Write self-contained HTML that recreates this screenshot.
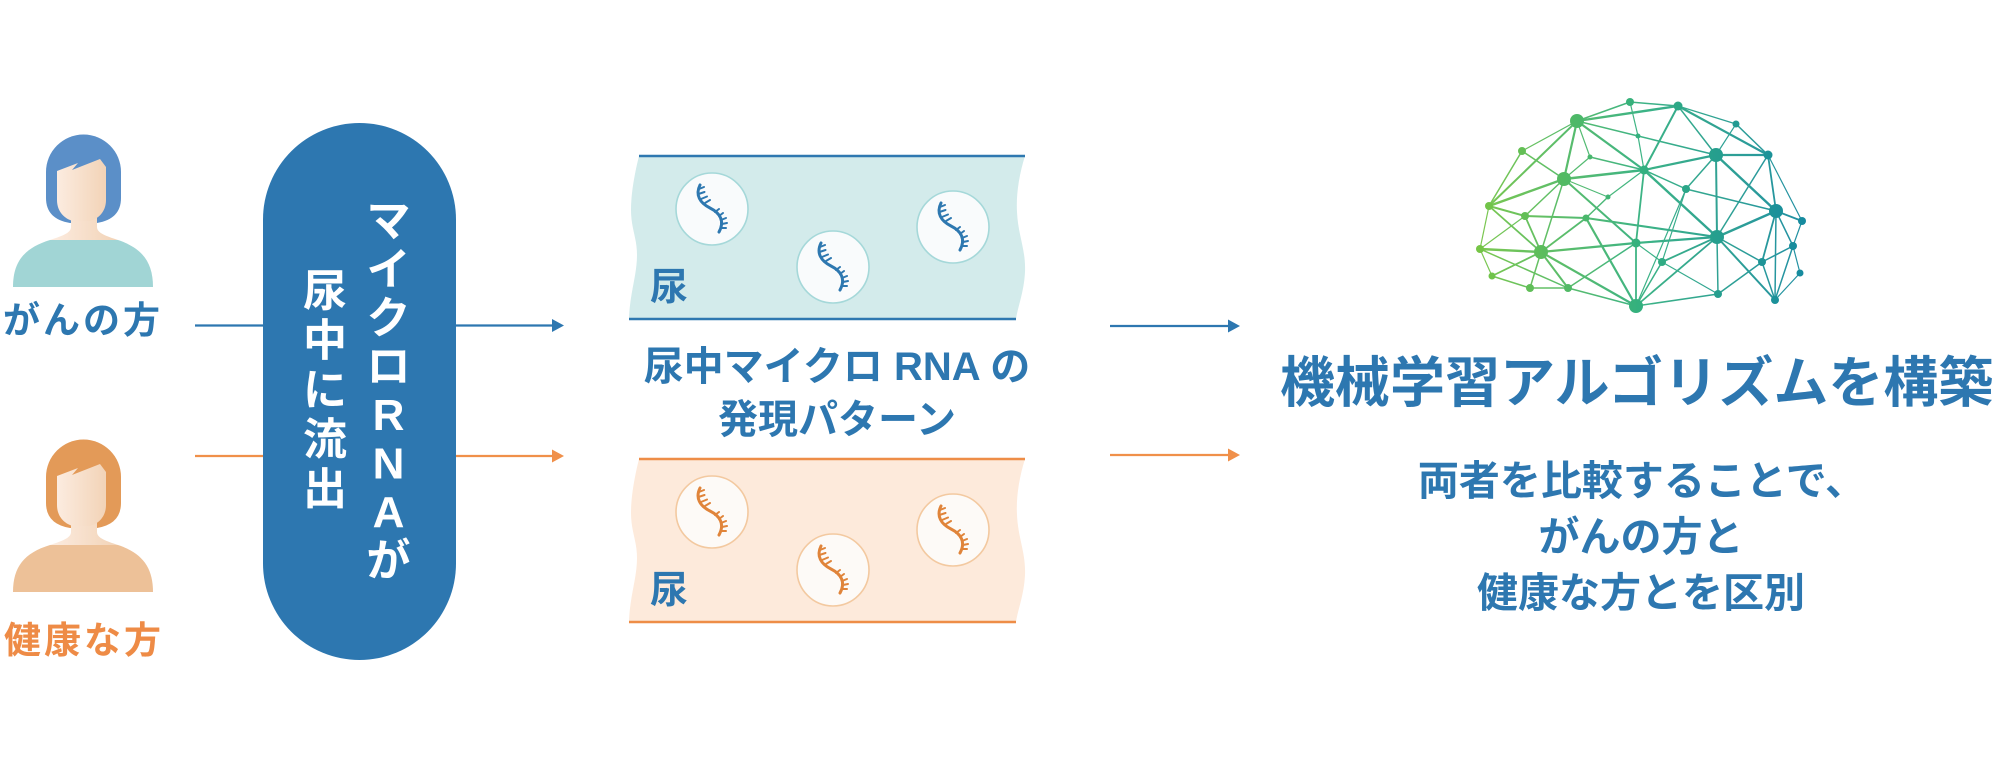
<!DOCTYPE html>
<html><head><meta charset="utf-8"><style>
html,body{margin:0;padding:0;background:#fff;}
svg{display:block;}
text{font-family:"Liberation Sans","Noto Sans CJK JP",sans-serif;font-weight:700;}
</style></head><body>
<svg width="2000" height="772" viewBox="0 0 2000 772" xmlns="http://www.w3.org/2000/svg">
<defs>
<linearGradient id="skin" x1="0" y1="0" x2="1" y2="0"><stop offset="0" stop-color="#fcece0"/><stop offset="1" stop-color="#f2d3b7"/></linearGradient>
<linearGradient id="bg" gradientUnits="userSpaceOnUse" x1="1477" y1="0" x2="1805" y2="0"><stop offset="0" stop-color="#76c545"/><stop offset="0.5" stop-color="#33b07f"/><stop offset="1" stop-color="#168a9f"/></linearGradient>
<g id="dnaPath">
<path d="M-12,-24 C-17,-14 -12,-6 -2,-1 C8,4 13,12 7,23" fill="none" stroke-width="3" stroke-linecap="round"/>
<path d="M-13,-20 L-8,-22 M-13.5,-15 L-7.5,-17 M-11,-10 L-5,-12.5 M-7,-6 L-2,-9 M3,3 L7,0 M7,7 L11,4 M9,11 L14,9 M10,15 L15,14 M9,19 L14,19" fill="none" stroke-width="2" stroke-linecap="round"/>
</g>
</defs>

<g>
<path d="M46,172 A37.5,37.5 0 0 1 121,172 L121,198 Q121,219 97,223 L70,223 Q46,219 46,198 Z" fill="#5b8fc8"/>
<path d="M71,212 L71,227 C71,233 62,236 50,240 L118,240 C106,236 97,233 97,227 L97,212 Z" fill="url(#skin)"/>
<path d="M57,171 L78,163 L72,170 L100,159 L106,167 L106,200 C106,212 98,219 90,221 L73,221 C65,219 57,212 57,200 Z" fill="url(#skin)"/>
<path d="M13,287 C13,262 24,248 50,240 L118,240 C142,248 153,262 153,287 Z" fill="#a1d5d5"/>
</g>
<g transform="translate(0,305)">
<path d="M46,172 A37.5,37.5 0 0 1 121,172 L121,198 Q121,219 97,223 L70,223 Q46,219 46,198 Z" fill="#e39a58"/>
<path d="M71,212 L71,227 C71,233 62,236 50,240 L118,240 C106,236 97,233 97,227 L97,212 Z" fill="url(#skin)"/>
<path d="M57,171 L78,163 L72,170 L100,159 L106,167 L106,200 C106,212 98,219 90,221 L73,221 C65,219 57,212 57,200 Z" fill="url(#skin)"/>
<path d="M13,287 C13,262 24,248 50,240 L118,240 C142,248 153,262 153,287 Z" fill="#edc198"/>
</g>

<text x="3" y="333" font-size="37" letter-spacing="3" fill="#2d77b0">がんの方</text>
<text x="4" y="653" font-size="37" letter-spacing="3" fill="#ee8b46">健康な方</text>

<line x1="195" y1="325.5" x2="264" y2="325.5" stroke="#2d77b0" stroke-width="2.2"/>
<line x1="455" y1="325.5" x2="554" y2="325.5" stroke="#2d77b0" stroke-width="2.2"/>
<polygon points="552,319 564,325.5 552,332" fill="#2d77b0"/>
<line x1="195" y1="456" x2="264" y2="456" stroke="#f0904a" stroke-width="2.2"/>
<line x1="455" y1="456" x2="554" y2="456" stroke="#f0904a" stroke-width="2.2"/>
<polygon points="552,449.5 564,456 552,462.5" fill="#f0904a"/>

<rect x="263" y="123" width="193" height="537" rx="96.5" ry="96.5" fill="#2d77b0"/>
<g fill="#fff" font-size="44" text-anchor="middle">
<text x="388.5" y="236">マ</text>
<text x="388.5" y="284.5">イ</text>
<text x="388.5" y="333">ク</text>
<text x="388.5" y="381.5">ロ</text>
<text x="388.5" y="430">R</text>
<text x="388.5" y="478.5">N</text>
<text x="388.5" y="527">A</text>
<text x="388.5" y="575.5">が</text>
<text x="325" y="306">尿</text>
<text x="325" y="355.5">中</text>
<text x="325" y="405">に</text>
<text x="325" y="454.5">流</text>
<text x="325" y="504">出</text>
</g>

<path d="M639,156 L1025,156 C1019,175 1016,195 1017,212 C1018,235 1026,250 1025,272 C1024,292 1018,306 1016,319 L629,319 C630,292 637,275 637,255 C637,238 631,228 631,210 C631,192 635,172 639,156 Z" fill="#d3ebeb"/>
<line x1="639" y1="156" x2="1025" y2="156" stroke="#2e78b0" stroke-width="2.5"/>
<line x1="629" y1="319" x2="1016" y2="319" stroke="#2e78b0" stroke-width="2.5"/>
<g fill="#f9fbfc" stroke="#a5d8d9" stroke-width="1.6">
<circle cx="712" cy="209" r="36"/><circle cx="833" cy="267" r="36"/><circle cx="953" cy="227" r="36"/>
</g>
<g stroke="#2e78b0">
<use href="#dnaPath" transform="translate(712,209)"/>
<use href="#dnaPath" transform="translate(833,267)"/>
<use href="#dnaPath" transform="translate(953,227)"/>
</g>
<text x="650" y="300" font-size="38" fill="#2d77b0">尿</text>

<g transform="translate(0,303)">
<path d="M639,156 L1025,156 C1019,175 1016,195 1017,212 C1018,235 1026,250 1025,272 C1024,292 1018,306 1016,319 L629,319 C630,292 637,275 637,255 C637,238 631,228 631,210 C631,192 635,172 639,156 Z" fill="#fdeadb"/>
<line x1="639" y1="156" x2="1025" y2="156" stroke="#ee8d47" stroke-width="2.5"/>
<line x1="629" y1="319" x2="1016" y2="319" stroke="#ee8d47" stroke-width="2.5"/>
<g fill="#fdfaf7" stroke="#f3c9a0" stroke-width="1.6">
<circle cx="712" cy="209" r="36"/><circle cx="833" cy="267" r="36"/><circle cx="953" cy="227" r="36"/>
</g>
<g stroke="#e0843a">
<use href="#dnaPath" transform="translate(712,209)"/>
<use href="#dnaPath" transform="translate(833,267)"/>
<use href="#dnaPath" transform="translate(953,227)"/>
</g>
<text x="650" y="300" font-size="38" fill="#2d77b0">尿</text>
</g>

<text x="837" y="380" font-size="40" text-anchor="middle" fill="#2d77b0">尿中マイクロ RNA の</text>
<text x="837" y="433" font-size="40" text-anchor="middle" fill="#2d77b0">発現パターン</text>

<line x1="1110" y1="326" x2="1230" y2="326" stroke="#2d77b0" stroke-width="2.2"/>
<polygon points="1228,319.5 1240,326 1228,332.5" fill="#2d77b0"/>
<line x1="1110" y1="455" x2="1230" y2="455" stroke="#f0904a" stroke-width="2.2"/>
<polygon points="1228,448.5 1240,455 1228,461.5" fill="#f0904a"/>

<g stroke="url(#bg)" stroke-linecap="round" opacity="0.95">
<line x1="1577" y1="121" x2="1630" y2="102" stroke-width="1.5"/>
<line x1="1630" y1="102" x2="1678" y2="106" stroke-width="1.5"/>
<line x1="1577" y1="121" x2="1678" y2="106" stroke-width="2.4"/>
<line x1="1630" y1="102" x2="1638" y2="136" stroke-width="1.2"/>
<line x1="1638" y1="136" x2="1644" y2="170" stroke-width="1.2"/>
<line x1="1678" y1="106" x2="1644" y2="170" stroke-width="2"/>
<line x1="1678" y1="106" x2="1716" y2="155" stroke-width="1.5"/>
<line x1="1678" y1="106" x2="1736" y2="124" stroke-width="1.2"/>
<line x1="1678" y1="106" x2="1768" y2="155" stroke-width="2.2"/>
<line x1="1736" y1="124" x2="1768" y2="155" stroke-width="1.5"/>
<line x1="1577" y1="121" x2="1638" y2="136" stroke-width="1.5"/>
<line x1="1638" y1="136" x2="1716" y2="155" stroke-width="1.5"/>
<line x1="1577" y1="121" x2="1522" y2="151" stroke-width="1.2"/>
<line x1="1522" y1="151" x2="1564" y2="179" stroke-width="1.5"/>
<line x1="1522" y1="151" x2="1489" y2="206" stroke-width="1.5"/>
<line x1="1577" y1="121" x2="1564" y2="179" stroke-width="2.2"/>
<line x1="1577" y1="121" x2="1590" y2="157" stroke-width="1.2"/>
<line x1="1590" y1="157" x2="1644" y2="170" stroke-width="1.5"/>
<line x1="1577" y1="121" x2="1644" y2="170" stroke-width="2.2"/>
<line x1="1577" y1="121" x2="1489" y2="206" stroke-width="2"/>
<line x1="1590" y1="157" x2="1564" y2="179" stroke-width="1.2"/>
<line x1="1564" y1="179" x2="1644" y2="170" stroke-width="2.4"/>
<line x1="1564" y1="179" x2="1489" y2="206" stroke-width="2.4"/>
<line x1="1564" y1="179" x2="1525" y2="216" stroke-width="1.5"/>
<line x1="1564" y1="179" x2="1636" y2="243" stroke-width="2"/>
<line x1="1564" y1="179" x2="1541" y2="252" stroke-width="1.5"/>
<line x1="1564" y1="179" x2="1608" y2="197" stroke-width="1.2"/>
<line x1="1608" y1="197" x2="1644" y2="170" stroke-width="1.2"/>
<line x1="1608" y1="197" x2="1586" y2="218" stroke-width="1.5"/>
<line x1="1644" y1="170" x2="1717" y2="237" stroke-width="2.4"/>
<line x1="1644" y1="170" x2="1716" y2="155" stroke-width="2.2"/>
<line x1="1644" y1="170" x2="1686" y2="189" stroke-width="1.5"/>
<line x1="1644" y1="170" x2="1636" y2="243" stroke-width="1.8"/>
<line x1="1716" y1="155" x2="1768" y2="155" stroke-width="2.2"/>
<line x1="1716" y1="155" x2="1717" y2="237" stroke-width="2"/>
<line x1="1716" y1="155" x2="1776" y2="211" stroke-width="2.4"/>
<line x1="1716" y1="155" x2="1686" y2="189" stroke-width="1.5"/>
<line x1="1768" y1="155" x2="1776" y2="211" stroke-width="1.8"/>
<line x1="1768" y1="155" x2="1717" y2="237" stroke-width="1.5"/>
<line x1="1768" y1="155" x2="1802" y2="221" stroke-width="1.2"/>
<line x1="1736" y1="124" x2="1716" y2="155" stroke-width="1.2"/>
<line x1="1686" y1="189" x2="1776" y2="211" stroke-width="1.5"/>
<line x1="1686" y1="189" x2="1662" y2="262" stroke-width="1.2"/>
<line x1="1489" y1="206" x2="1525" y2="216" stroke-width="2"/>
<line x1="1489" y1="206" x2="1480" y2="249" stroke-width="1.2"/>
<line x1="1489" y1="206" x2="1541" y2="252" stroke-width="1.8"/>
<line x1="1525" y1="216" x2="1586" y2="218" stroke-width="2"/>
<line x1="1586" y1="218" x2="1717" y2="237" stroke-width="2"/>
<line x1="1525" y1="216" x2="1541" y2="252" stroke-width="1.8"/>
<line x1="1525" y1="216" x2="1480" y2="249" stroke-width="1.2"/>
<line x1="1586" y1="218" x2="1541" y2="252" stroke-width="1.8"/>
<line x1="1586" y1="218" x2="1636" y2="306" stroke-width="2.2"/>
<line x1="1541" y1="252" x2="1636" y2="243" stroke-width="2.2"/>
<line x1="1636" y1="243" x2="1717" y2="237" stroke-width="2.2"/>
<line x1="1480" y1="249" x2="1541" y2="252" stroke-width="2.4"/>
<line x1="1480" y1="249" x2="1492" y2="276" stroke-width="1.2"/>
<line x1="1480" y1="249" x2="1568" y2="288" stroke-width="1.5"/>
<line x1="1492" y1="276" x2="1541" y2="252" stroke-width="1.8"/>
<line x1="1492" y1="276" x2="1530" y2="288" stroke-width="1.5"/>
<line x1="1530" y1="288" x2="1541" y2="252" stroke-width="1.5"/>
<line x1="1530" y1="288" x2="1568" y2="288" stroke-width="1.5"/>
<line x1="1541" y1="252" x2="1568" y2="288" stroke-width="2"/>
<line x1="1541" y1="252" x2="1636" y2="306" stroke-width="2.2"/>
<line x1="1568" y1="288" x2="1636" y2="306" stroke-width="1.5"/>
<line x1="1568" y1="288" x2="1636" y2="243" stroke-width="1.5"/>
<line x1="1636" y1="243" x2="1662" y2="262" stroke-width="1.2"/>
<line x1="1662" y1="262" x2="1636" y2="306" stroke-width="1.5"/>
<line x1="1662" y1="262" x2="1717" y2="237" stroke-width="1.8"/>
<line x1="1636" y1="243" x2="1636" y2="306" stroke-width="1.8"/>
<line x1="1636" y1="306" x2="1718" y2="294" stroke-width="1.5"/>
<line x1="1636" y1="306" x2="1717" y2="237" stroke-width="1.8"/>
<line x1="1717" y1="237" x2="1718" y2="294" stroke-width="1.5"/>
<line x1="1717" y1="237" x2="1775" y2="300" stroke-width="2"/>
<line x1="1717" y1="237" x2="1776" y2="211" stroke-width="2.4"/>
<line x1="1717" y1="237" x2="1762" y2="262" stroke-width="1.5"/>
<line x1="1776" y1="211" x2="1802" y2="221" stroke-width="1.8"/>
<line x1="1776" y1="211" x2="1793" y2="246" stroke-width="1.5"/>
<line x1="1776" y1="211" x2="1762" y2="262" stroke-width="1.8"/>
<line x1="1776" y1="211" x2="1775" y2="300" stroke-width="1.5"/>
<line x1="1802" y1="221" x2="1793" y2="246" stroke-width="1.2"/>
<line x1="1793" y1="246" x2="1762" y2="262" stroke-width="1.5"/>
<line x1="1793" y1="246" x2="1800" y2="273" stroke-width="1.2"/>
<line x1="1793" y1="246" x2="1775" y2="300" stroke-width="1.5"/>
<line x1="1800" y1="273" x2="1775" y2="300" stroke-width="1.2"/>
<line x1="1762" y1="262" x2="1775" y2="300" stroke-width="1.5"/>
<line x1="1762" y1="262" x2="1718" y2="294" stroke-width="1.5"/>
<line x1="1686" y1="189" x2="1636" y2="306" stroke-width="1.2"/>
<line x1="1662" y1="262" x2="1718" y2="294" stroke-width="1.2"/>
</g>
<g fill="url(#bg)">
<circle cx="1630" cy="102" r="4"/>
<circle cx="1678" cy="106" r="4.5"/>
<circle cx="1577" cy="121" r="7"/>
<circle cx="1736" cy="124" r="3.5"/>
<circle cx="1638" cy="136" r="2.5"/>
<circle cx="1522" cy="151" r="4"/>
<circle cx="1716" cy="155" r="7"/>
<circle cx="1768" cy="155" r="4.5"/>
<circle cx="1590" cy="157" r="2.5"/>
<circle cx="1644" cy="170" r="4.5"/>
<circle cx="1564" cy="179" r="7"/>
<circle cx="1686" cy="189" r="4"/>
<circle cx="1608" cy="197" r="2.5"/>
<circle cx="1489" cy="206" r="4"/>
<circle cx="1776" cy="211" r="7"/>
<circle cx="1525" cy="216" r="4"/>
<circle cx="1586" cy="218" r="3.5"/>
<circle cx="1802" cy="221" r="4"/>
<circle cx="1717" cy="237" r="7"/>
<circle cx="1636" cy="243" r="4.5"/>
<circle cx="1480" cy="249" r="4"/>
<circle cx="1541" cy="252" r="7"/>
<circle cx="1793" cy="246" r="4"/>
<circle cx="1662" cy="262" r="4"/>
<circle cx="1762" cy="262" r="4"/>
<circle cx="1492" cy="276" r="3.5"/>
<circle cx="1800" cy="273" r="3.5"/>
<circle cx="1530" cy="288" r="4"/>
<circle cx="1568" cy="288" r="4"/>
<circle cx="1718" cy="294" r="4"/>
<circle cx="1775" cy="300" r="4"/>
<circle cx="1636" cy="306" r="7"/>
</g>

<text x="1280" y="402" font-size="55" fill="#2d77b0">機械学習アルゴリズムを構築</text>
<text x="1642" y="495" font-size="41" text-anchor="middle" fill="#2d77b0">両者を比較することで、</text>
<text x="1641" y="551" font-size="41" text-anchor="middle" fill="#2d77b0">がんの方と</text>
<text x="1641" y="607" font-size="41" text-anchor="middle" fill="#2d77b0">健康な方とを区別</text>
</svg>
</body></html>
